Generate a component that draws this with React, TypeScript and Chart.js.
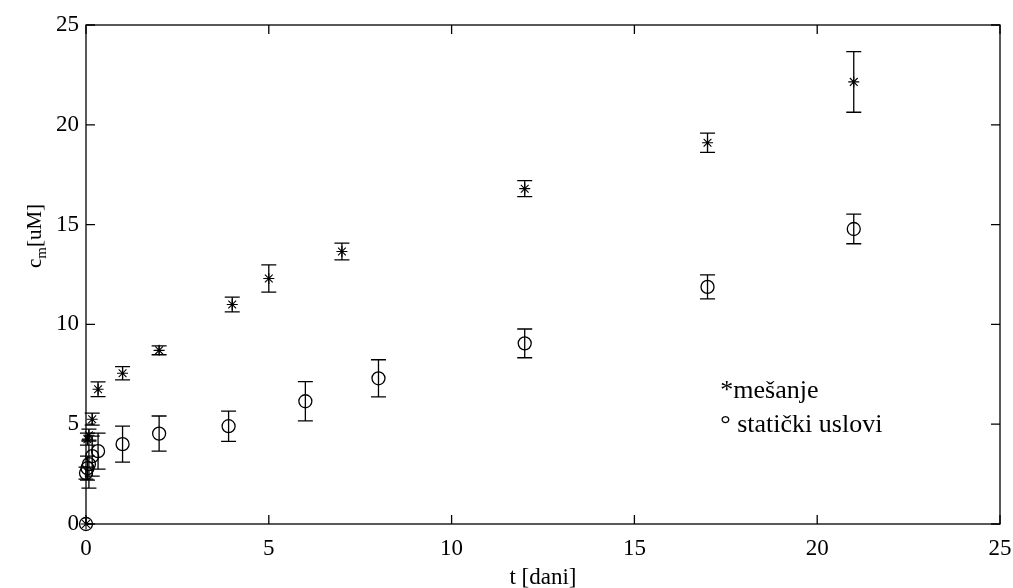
import React, { useEffect, useRef } from "react";
import { Chart, registerables } from "chart.js";

Chart.register(...registerables);

// ---- data ----
const mesanjeT = [0, 0.04, 0.08, 0.17, 0.33, 1, 2, 4, 5, 7, 12, 17, 21];
const mesanjeC = [0, 4.25, 4.45, 5.25, 6.75, 7.55, 8.7, 11.0, 12.3, 13.65, 16.8, 19.1, 22.15];
const mesanjeErr = [0, 0.3, 0.3, 0.3, 0.37, 0.33, 0.22, 0.37, 0.68, 0.42, 0.4, 0.48, 1.52];

const staticT = [0, 0, 0.04, 0.08, 0.17, 0.33, 1, 2, 3.9, 6, 8, 12, 17, 21];
const staticC = [0, 2.55, 2.8, 3.0, 3.4, 3.65, 4.0, 4.53, 4.9, 6.15, 7.3, 9.05, 11.88, 14.78];
const staticErr = [0, 0.3, 0.6, 1.2, 1.0, 0.9, 0.9, 0.88, 0.76, 0.98, 0.93, 0.72, 0.6, 0.74];

const xTickValues = [0, 5, 10, 15, 20, 25];
const yTickValues = [0, 5, 10, 15, 20, 25];

const xTitle = "t [dani]";
const yTitleMain = "c";
const yTitleSub = "m";
const yTitleUnit = "[uM]";

const legendLines = ["*mešanje", "° statički uslovi"];

const FONT = "'Liberation Serif', 'Times New Roman', serif";

const errorBarPlugin = {
  id: "errorBars",
  beforeDatasetsDraw(chart: any) {
    const ctx = chart.ctx;
    const xs = chart.scales.x;
    const ys = chart.scales.y;
    const sets = [
      { t: mesanjeT, c: mesanjeC, e: mesanjeErr },
      { t: staticT, c: staticC, e: staticErr },
    ];
    ctx.save();
    ctx.strokeStyle = "#000";
    ctx.lineWidth = 1.3;
    const cap = 7.5;
    sets.forEach((s) => {
      s.t.forEach((t, i) => {
        if (!s.e[i]) return;
        const px = xs.getPixelForValue(t);
        const top = ys.getPixelForValue(s.c[i] + s.e[i]);
        const bot = ys.getPixelForValue(s.c[i] - s.e[i]);
        ctx.beginPath();
        ctx.moveTo(px, top);
        ctx.lineTo(px, bot);
        ctx.moveTo(px - cap, top);
        ctx.lineTo(px + cap, top);
        ctx.moveTo(px - cap, bot);
        ctx.lineTo(px + cap, bot);
        ctx.stroke();
      });
    });
    ctx.restore();
  },
};

const framePlugin = {
  id: "frame",
  afterDraw(chart: any) {
    const ctx = chart.ctx;
    const a = chart.chartArea;
    const xs = chart.scales.x;
    const ys = chart.scales.y;
    ctx.save();
    ctx.strokeStyle = "#000";
    ctx.lineWidth = 1.3;
    ctx.strokeRect(a.left, a.top, a.right - a.left, a.bottom - a.top);
    const tl = 9;
    ctx.beginPath();
    xTickValues.forEach((v) => {
      const px = xs.getPixelForValue(v);
      ctx.moveTo(px, a.bottom);
      ctx.lineTo(px, a.bottom - tl);
      ctx.moveTo(px, a.top);
      ctx.lineTo(px, a.top + tl);
    });
    yTickValues.forEach((v) => {
      const py = ys.getPixelForValue(v);
      ctx.moveTo(a.left, py);
      ctx.lineTo(a.left + tl, py);
      ctx.moveTo(a.right, py);
      ctx.lineTo(a.right - tl, py);
    });
    ctx.stroke();

    // y title with subscript
    ctx.fillStyle = "#000";
    ctx.translate(41, 236);
    ctx.rotate(-Math.PI / 2);
    ctx.textBaseline = "alphabetic";
    ctx.textAlign = "left";
    const big = `21px ${FONT}`;
    const small = `15px ${FONT}`;
    ctx.font = big;
    const w1 = ctx.measureText(yTitleMain).width;
    const w3 = ctx.measureText(yTitleUnit).width;
    ctx.font = small;
    const w2 = ctx.measureText(yTitleSub).width;
    const x0 = -(w1 + w2 + w3) / 2;
    ctx.font = big;
    ctx.fillText(yTitleMain, x0, 0);
    ctx.font = small;
    ctx.fillText(yTitleSub, x0 + w1, 5);
    ctx.font = big;
    ctx.fillText(yTitleUnit, x0 + w1 + w2, 0);
    ctx.restore();

    // legend text
    ctx.save();
    ctx.fillStyle = "#000";
    ctx.font = `26px ${FONT}`;
    ctx.textAlign = "left";
    ctx.textBaseline = "middle";
    const lx = xs.getPixelForValue(17.35);
    ctx.fillText(legendLines[0], lx, ys.getPixelForValue(6.65));
    ctx.fillText(legendLines[1], lx, ys.getPixelForValue(4.95));
    ctx.restore();
  },
};

export default function App() {
  const ref = useRef<HTMLCanvasElement | null>(null);
  useEffect(() => {
    if (!ref.current) return;
    const chart = new Chart(ref.current, {
      type: "scatter",
      data: {
        datasets: [
          {
            label: "mešanje",
            data: mesanjeT.map((t, i) => ({ x: t, y: mesanjeC[i] })),
            pointStyle: "star",
            pointRadius: 5.5,
            borderColor: "#000",
            backgroundColor: "#000",
            borderWidth: 1.1,
            clip: false,
          },
          {
            label: "statički uslovi",
            data: staticT.map((t, i) => ({ x: t, y: staticC[i] })),
            pointStyle: "circle",
            pointRadius: 6.5,
            borderColor: "#000",
            backgroundColor: "rgba(0,0,0,0)",
            borderWidth: 1.3,
            clip: false,
          },
        ],
      },
      options: {
        responsive: false,
        animation: false,
        devicePixelRatio: 1,
        layout: { padding: { top: 25, right: 13, left: 0, bottom: 0 } },
        plugins: { legend: { display: false }, tooltip: { enabled: false } },
        scales: {
          x: {
            type: "linear",
            min: 0,
            max: 25,
            afterBuildTicks: (s: any) => {
              s.ticks = xTickValues.map((v) => ({ value: v }));
            },
            ticks: {
              color: "#000",
              font: { family: FONT, size: 23 },
              padding: 11,
              maxRotation: 0,
            },
            grid: { display: false, drawTicks: false },
            border: { display: false },
            title: {
              display: true,
              text: xTitle,
              color: "#000",
              font: { family: FONT, size: 23 },
              padding: { top: 0, bottom: -4 },
            },
            afterFit: (s: any) => {
              s.height = 64;
              s.paddingLeft = 0;
              s.paddingRight = 0;
            },
          },
          y: {
            type: "linear",
            min: 0,
            max: 25,
            afterBuildTicks: (s: any) => {
              s.ticks = yTickValues.map((v) => ({ value: v }));
            },
            ticks: {
              color: "#000",
              font: { family: FONT, size: 23 },
              padding: 7,
            },
            grid: { display: false, drawTicks: false },
            border: { display: false },
            afterFit: (s: any) => {
              s.width = 86;
              s.paddingTop = 0;
              s.paddingBottom = 0;
            },
          },
        },
      },
      plugins: [errorBarPlugin, framePlugin],
    });
    return () => chart.destroy();
  }, []);
  return (
    <div style={{ position: "absolute", left: 0, top: 0, width: 1013, height: 588, background: "#fff" }}>
      <canvas ref={ref} width={1013} height={588} />
    </div>
  );
}
